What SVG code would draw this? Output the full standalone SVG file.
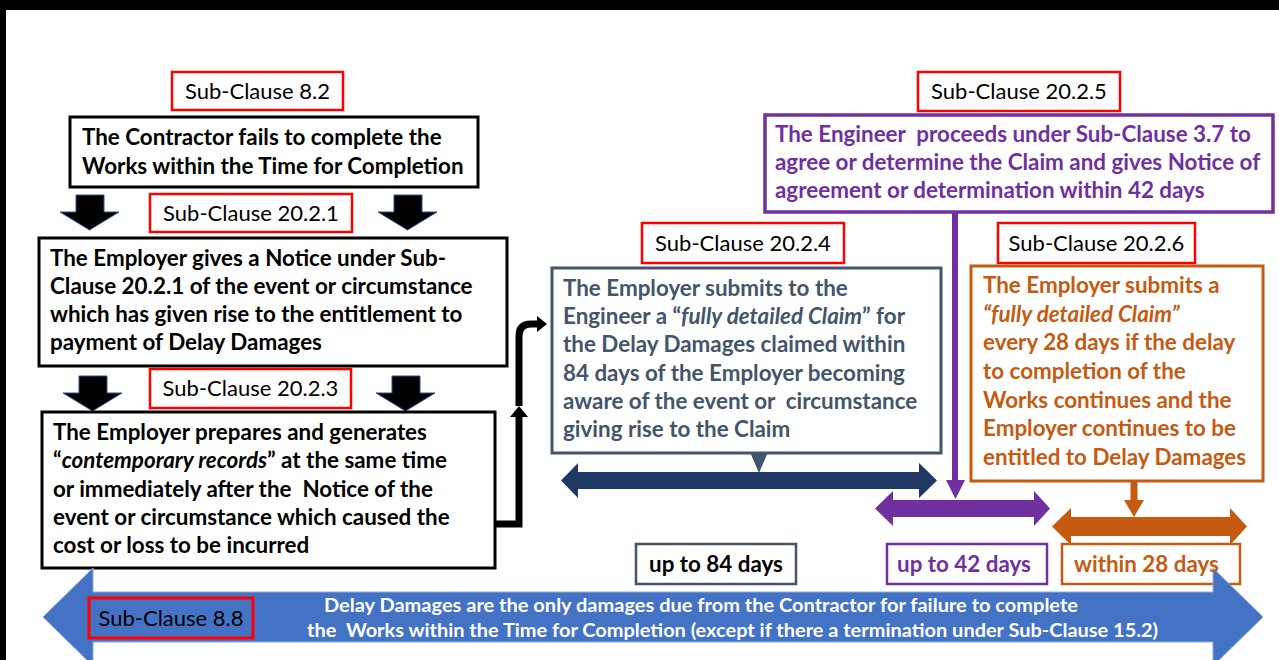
<svg xmlns="http://www.w3.org/2000/svg" width="1279" height="660" viewBox="0 0 1279 660">
  <defs>
    <style>
      text { font-family: Lato, "Open Sans", "Liberation Sans", sans-serif; white-space: pre; }
      .lbl { font-size: 22px; fill: #000; text-anchor: middle; }
      .lblbox { fill: #fff; stroke: #FF0000; stroke-width: 2.5; }
      .bt { font-size: 22.4px; font-weight: bold; }
      .blk { fill: #000; }
      .slate { fill: #44546A; }
      .purp { fill: #7030A0; }
      .orng { fill: #C55A11; }
      .it { font-style: italic; }
      .wt { font-size: 19px; font-weight: bold; fill: #fff; }
    </style>
    <path id="downArrow" d="M16,0 H44 V17 H59 L29.5,35 L0,17 H16 Z" fill="#000" stroke="#2F528F" stroke-width="1"/>
  </defs>

  <rect x="0" y="0" width="1279" height="660" fill="#fff"/>
  <rect x="0" y="0" width="1279" height="10" fill="#000"/>
  <rect x="0" y="0" width="6" height="660" fill="#000"/>

  <!-- Connectors -->
  <g id="connectors">
    <use href="#downArrow" x="60" y="195"/>
    <use href="#downArrow" x="378" y="195"/>
    <use href="#downArrow" x="63" y="376"/>
    <use href="#downArrow" x="376" y="376"/>
    <!-- elbow from box C up -->
    <path d="M496,524 H519 V415" fill="none" stroke="#000" stroke-width="7"/>
    <polygon points="510,417 528,417 519,406" fill="#000"/>
    <path d="M519,406 V336 Q519,324 531,324 H538" fill="none" stroke="#000" stroke-width="7"/>
    <polygon points="537,316 537,332 547,324" fill="#000"/>
    <!-- pointer of box D -->
    <polygon points="750,452 768,452 759,473" fill="#44546A"/>
    <!-- navy double arrow -->
    <polygon points="561,480.5 578,463 578,472 919,472 919,463 937,480.5 919,498 919,489 578,489 578,498" fill="#203864"/>
    <!-- purple down line -->
    <line x1="955" y1="212" x2="955" y2="482" stroke="#7030A0" stroke-width="6"/>
    <polygon points="946,480 965,480 955.5,499" fill="#7030A0"/>
    <!-- purple double arrow -->
    <polygon points="875,508.5 893,491 893,500 1034,500 1034,491 1050,508.5 1034,526 1034,517 893,517 893,526" fill="#7030A0"/>
    <!-- orange down -->
    <line x1="1134" y1="481" x2="1134" y2="502" stroke="#C55A11" stroke-width="7"/>
    <polygon points="1124,500 1144,500 1134,517" fill="#C55A11"/>
    <!-- orange double arrow -->
    <polygon points="1052,526.5 1071,508 1071,517 1230,517 1230,508 1247,526.5 1230,545 1230,536 1071,536 1071,545" fill="#C55A11"/>
  </g>

  <g id="label-8-2">
    <rect class="lblbox" x="172" y="72" width="171" height="38"/>
    <text class="lbl" x="257.5" y="99">Sub-Clause 8.2</text>
  </g>
  <g id="boxA">
    <rect x="70" y="117" width="408" height="70" fill="#fff" stroke="#000" stroke-width="3"/>
    <text class="bt blk" x="82" y="145">The Contractor fails to complete the</text>
    <text class="bt blk" x="82" y="174">Works within the Time for Completion</text>
  </g>

  <g id="label-20-2-1">
    <rect class="lblbox" x="150" y="194" width="202" height="38"/>
    <text class="lbl" x="251" y="221">Sub-Clause 20.2.1</text>
  </g>
  <g id="boxB">
    <rect x="39" y="238" width="468" height="128" fill="#fff" stroke="#000" stroke-width="3"/>
    <text class="bt blk" x="50" y="266">The Employer gives a Notice under Sub-</text>
    <text class="bt blk" x="50" y="294">Clause 20.2.1 of the event or circumstance</text>
    <text class="bt blk" x="50" y="322">which has given rise to the entitlement to</text>
    <text class="bt blk" x="50" y="350">payment of Delay Damages</text>
  </g>

  <g id="label-20-2-3">
    <rect class="lblbox" x="150" y="369" width="201" height="39"/>
    <text class="lbl" x="250.5" y="396">Sub-Clause 20.2.3</text>
  </g>
  <g id="boxC">
    <rect x="42" y="412" width="453" height="156" fill="#fff" stroke="#000" stroke-width="3"/>
    <text class="bt blk" x="53" y="440">The Employer prepares and generates</text>
    <text class="bt blk" x="53" y="468">“<tspan class="it">contemporary records</tspan>” at the same time</text>
    <text class="bt blk" x="53" y="497">or immediately after the  Notice of the</text>
    <text class="bt blk" x="53" y="525">event or circumstance which caused the</text>
    <text class="bt blk" x="53" y="553">cost or loss to be incurred</text>
  </g>

  <g id="label-20-2-4">
    <rect class="lblbox" x="642" y="223" width="202" height="40"/>
    <text class="lbl" x="743" y="251">Sub-Clause 20.2.4</text>
  </g>
  <g id="boxD">
    <rect x="552" y="268" width="389" height="185" fill="#fff" stroke="#44546A" stroke-width="3"/>
    <text class="bt slate" x="563" y="296">The Employer submits to the</text>
    <text class="bt slate" x="563" y="324">Engineer a “<tspan class="it">fully detailed Claim</tspan>” for</text>
    <text class="bt slate" x="563" y="352">the Delay Damages claimed within</text>
    <text class="bt slate" x="563" y="381">84 days of the Employer becoming</text>
    <text class="bt slate" x="563" y="409">aware of the event or  circumstance</text>
    <text class="bt slate" x="563" y="437">giving rise to the Claim</text>
  </g>

  <g id="label-20-2-5">
    <rect class="lblbox" x="918" y="72" width="202" height="39"/>
    <text class="lbl" x="1019" y="99">Sub-Clause 20.2.5</text>
  </g>
  <g id="boxE">
    <rect x="765" y="115" width="508" height="97" fill="#fff" stroke="#7030A0" stroke-width="3.5"/>
    <text class="bt purp" x="775" y="142">The Engineer  proceeds under Sub-Clause 3.7 to</text>
    <text class="bt purp" x="775" y="170">agree or determine the Claim and gives Notice of</text>
    <text class="bt purp" x="775" y="198">agreement or determination within 42 days</text>
  </g>

  <g id="label-20-2-6">
    <rect class="lblbox" x="998" y="223" width="197" height="40"/>
    <text class="lbl" x="1096.5" y="251">Sub-Clause 20.2.6</text>
  </g>
  <g id="boxF">
    <rect x="971" y="266" width="292" height="215" fill="#fff" stroke="#C55A11" stroke-width="3"/>
    <text class="bt orng" x="983" y="293">The Employer submits a</text>
    <text class="bt orng it" x="983" y="322">“fully detailed Claim”</text>
    <text class="bt orng" x="983" y="350">every 28 days if the delay</text>
    <text class="bt orng" x="983" y="379">to completion of the</text>
    <text class="bt orng" x="983" y="408">Works continues and the</text>
    <text class="bt orng" x="983" y="436">Employer continues to be</text>
    <text class="bt orng" x="983" y="465">entitled to Delay Damages</text>
  </g>

  <g id="days84">
    <rect x="636" y="544" width="160" height="40" fill="#fff" stroke="#44546A" stroke-width="2.5"/>
    <text class="bt blk" x="716" y="572" text-anchor="middle">up to 84 days</text>
  </g>
  <g id="days42">
    <rect x="887" y="544" width="160" height="40" fill="#fff" stroke="#7030A0" stroke-width="2.5"/>
    <text class="bt purp" x="964" y="572" text-anchor="middle">up to 42 days</text>
  </g>
  <g id="days28">
    <rect x="1062" y="544" width="178" height="40" fill="#fff" stroke="#C55A11" stroke-width="2.5"/>
  </g>

  <g id="delayDamagesArrow">
    <polygon points="43,617 93,568 93,592 1213,592 1213,568 1263,617 1213,666 1213,642 93,642 93,666" fill="#4472C4" stroke="#8FAADC" stroke-width="1"/>
    <rect x="89" y="598" width="164" height="40" fill="none" stroke="#FF0000" stroke-width="3"/>
    <text class="lbl" x="171" y="626">Sub-Clause 8.8</text>
    <text class="wt" x="324" y="612" textLength="754" lengthAdjust="spacingAndGlyphs">Delay Damages are the only damages due from the Contractor for failure to complete</text>
    <text class="wt" x="307" y="637" textLength="851" lengthAdjust="spacingAndGlyphs">the  Works within the Time for Completion (except if there a termination under Sub-Clause 15.2)</text>
  </g>
  <g id="days28-text">
    <text class="bt orng" x="1074" y="572">within 28 days</text>
  </g>
</svg>
